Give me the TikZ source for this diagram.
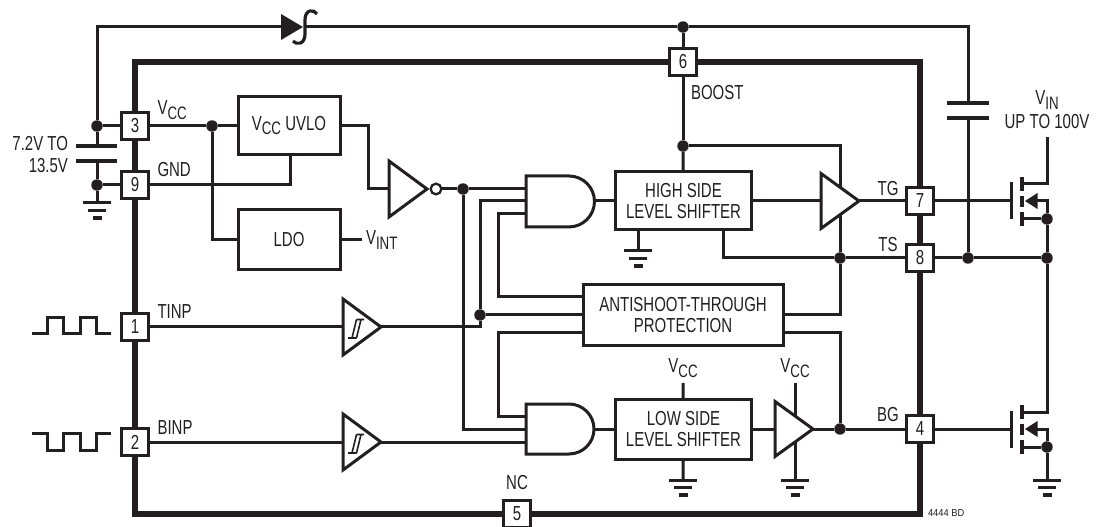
\documentclass[tikz,border=0pt]{standalone}
\usepackage{fontspec}
\setmainfont[FakeStretch=0.74]{Liberation Sans}
\newfontfamily\smallprint[FakeStretch=0.92]{Liberation Sans}
\usetikzlibrary{shapes.geometric,backgrounds,calc}
\definecolor{ink}{HTML}{231F20}
\newcommand{\subs}[1]{\raisebox{-3.2pt}{\fontsize{13.5}{13.5}\selectfont #1}}
\tikzset{
  x=0.75pt,y=-0.75pt,
  every node/.style={text=ink,inner sep=0pt,outer sep=0pt,font=\fontsize{15.2}{16.2}\selectfont},
  wire/.style={draw=ink,line width=2.25pt,line join=miter},
  heavy/.style={draw=ink,line width=3.9pt,line join=miter},
  pinbox/.style={draw=ink,fill=white,line width=2.25pt,minimum size=20pt},
  block/.style={draw=ink,fill=white,line width=2.25pt,align=center},
  dot/.style={circle,fill=ink,minimum size=8.6pt},
  amp/.style={isosceles triangle,isosceles triangle stretches,draw=ink,fill=white,line width=2.25pt,minimum width=#1*0.75pt,minimum height=28.5pt,anchor=apex},
  amp/.default=55,
  lab/.style={align=center},
  pics/gndsym/.style={code={
    \draw[ink,line width=2.25pt] (-14,0) -- (14,0);
    \draw[ink,line width=2.25pt] (-9,7.5) -- (9,7.5);
    \draw[ink,line width=2.6pt] (-4.5,15) -- (4.5,15);
  }}
}
\newcommand{\mosfetsym}[2]{%
  \begin{scope}[shift={(#1,#2)}]
    \draw[ink,line width=2.25pt] (1011,-18.5) -- (1011,18.5);
    \draw[ink,line width=2.6pt] (1022,-24) -- (1022,-10) (1022,-5) -- (1022,6) (1022,11) -- (1022,25);
    \fill[ink] (1025,0) -- (1037.5,-8) -- (1037.5,8) -- cycle;
  \end{scope}}
\begin{document}
\begin{tikzpicture}
\useasboundingbox (0,0) rectangle (1096,527);
% pins
\node[pinbox] (p3) at (135,126) {3};
\node[pinbox] (p9) at (135,185) {9};
\node[pinbox] (p1) at (135,327) {1};
\node[pinbox] (p2) at (135,442) {2};
\node[pinbox] (p5) at (517,514) {5};
\node[pinbox] (p6) at (683,62) {6};
\node[pinbox] (p7) at (920,201) {7};
\node[pinbox] (p8) at (920,258) {8};
\node[pinbox] (p4) at (920,429) {4};
% blocks
\node[block,minimum width=76.5pt,minimum height=44pt] (uvlo) at (289,125.5) {V\subs{CC} UVLO};
\node[block,minimum width=76.5pt,minimum height=45pt] (ldo) at (289,240) {LDO};
\node[block,minimum width=102.5pt,minimum height=43.5pt] (hs) at (683.5,201) {HIGH SIDE\\LEVEL SHIFTER};
\node[block,minimum width=102.5pt,minimum height=45pt] (ls) at (683.5,429) {LOW SIDE\\LEVEL SHIFTER};
\node[block,minimum width=150pt,minimum height=45pt] (as) at (683,315) {ANTISHOOT-THROUGH\\PROTECTION};
% amplifiers
\node[amp=56] (inv) at (427,189) {};
\node[circle,draw=ink,fill=white,line width=1.7pt,minimum size=8pt] (bub) at (436,189) {};
\node[amp=56] (st) at (381,327) {};
\node[amp=56] (sb) at (381,442) {};
\node[amp=55] (dh) at (859,201) {};
\node[amp=55] (dl) at (813,429) {};
\node[isosceles triangle,isosceles triangle stretches,fill=ink,minimum width=19.5pt,minimum height=16.5pt,anchor=apex] (dio) at (303,27) {};
% junction dots
\node[dot] (j1) at (97,126) {};
\node[dot] (j2) at (97,185) {};
\node[dot] (j3) at (212,126) {};
\node[dot] (j4) at (683,27) {};
\node[dot] (j5) at (683,146) {};
\node[dot] (j6) at (463,189) {};
\node[dot] (j7) at (480,315) {};
\node[dot] (j8) at (840,258) {};
\node[dot] (j9) at (968,258) {};
\node[dot] (j10) at (1047,258) {};
\node[dot] (j11) at (1047,219) {};
\node[dot] (j12) at (840,429) {};
\node[dot] (j13) at (1047,447) {};
% free ends
\coordinate (a1a) at (526,189); \coordinate (a1b) at (526,201); \coordinate (a1c) at (526,214); \coordinate (a1o) at (594,201);
\coordinate (a2a) at (526,416); \coordinate (a2b) at (526,429); \coordinate (a2c) at (526,442); \coordinate (a2o) at (594,429);
\coordinate (capt) at (968,103); \coordinate (capb) at (968,118);
\coordinate (cint) at (97,146); \coordinate (cinb) at (97,161);
\coordinate (sint) at (305,27);
\coordinate (g1) at (97,203); \coordinate (g2) at (638,251); \coordinate (g3) at (683,480);
\coordinate (g4) at (795,480); \coordinate (g5) at (1047,480);
\coordinate (vintend) at (362,240);
\coordinate (vccls) at (683,383); \coordinate (vccdr) at (795,383);
\coordinate (mt) at (1010,201); \coordinate (mb) at (1010,429);
\coordinate (vinend) at (1047,137);
% AND gates
\draw[ink,fill=white,line width=2.25pt] (526,176) -- (569,176) arc[start angle=90,end angle=-90,radius=19.1pt] -- (526,227) -- cycle;
\draw[ink,fill=white,line width=2.25pt] (526,404) -- (569,404) arc[start angle=90,end angle=-90,radius=18.75pt] -- (526,454) -- cycle;
% schmitt glyphs
\foreach \yy in {327,442}{
  \draw[ink,line width=1.2pt] (348,\yy+11) -- (356.5,\yy+11) (352,\yy+11) -- (356.5,\yy-7.5) (356.5,\yy+11) -- (361,\yy-7.5) (356.5,\yy-7.5) -- (364,\yy-7.5);
}
% capacitor plates
\draw[ink,line width=2.5pt] (947,103) -- (989,103) (947,118) -- (989,118) (76,146) -- (117,146) (76,161) -- (117,161);
% grounds
\pic at (g1) {gndsym};
\pic at (g2) {gndsym};
\pic at (g3) {gndsym};
\pic at (g4) {gndsym};
\pic at (g5) {gndsym};
% mosfets
\mosfetsym{0}{201}
\mosfetsym{0}{429}
% connectors
\begin{scope}[on background layer]
  \draw[heavy] (p6.west) -- (135,62) -- (p3.north);
  \draw[heavy] (p6.east) -- (920,62) -- (p7.north);
  \draw[heavy] (p3) -- (p9) (p9) -- (p1) (p1) -- (p2);
  \draw[heavy] (p7) -- (p8) (p8) -- (p4);
  \draw[heavy] (p2.south) -- (135,514) -- (p5.west);
  \draw[heavy] (p5.east) -- (920,514) -- (p4.south);
  % supply
  \draw[wire] (j1) -- (p3);
  \draw[wire] (j2) -- (p9);
  \draw[wire] (j1) -- (cint);
  \draw[wire] (cinb) -- (j2);
  \draw[wire] (j2) -- (g1);
  \draw[wire] (j1) -- (97,27) -- (dio.center);
  \draw[wire] (sint) -- (j4);
  \draw[wire] (j4) -- (968,27) -- (capt);
  \draw[wire] (capb) -- (j9);
  \draw[wire] (j4) -- (p6);
  \draw[wire] (p6) -- (j5);
  \draw[wire] (j5) -- (hs);
  \draw[wire] (j5) -| (j8);
  \draw[wire] (p3) -- (j3);
  \draw[wire] (j3) -- (uvlo.west|-j3);
  \draw[wire] (j3) |- (ldo);
  \draw[wire] (p9) -| (290,155);
  \draw[wire] (ldo) -- (vintend);
  \draw[wire] (uvlo.east|-j3) -- (368,126) -- (368,189) -- (inv.lower side);
  \draw[wire] (bub) -- (j6);
  \draw[wire] (j6) -- (a1a);
  \draw[wire] (j6) |- (a2b);
  \draw[wire] (a1b) -| (j7);
  \draw[wire] (a1c) -- (498,214) -- (498,297) -- (as.west|-0,297);
  \draw[wire] (j7) -- (as.west|-j7);
  \draw[wire] (as.west|-0,333) -- (498,333) -- (498,416) -- (a2a);
  \draw[wire] (p1) -- (st.lower side);
  \draw[wire] (st.apex) -- (480,327) -- (j7);
  \draw[wire] (p2) -- (sb.lower side);
  \draw[wire] (sb.apex) -- (a2c);
  \draw[wire] (a1o) -- (hs.west|-a1o);
  \draw[wire] (a2o) -- (ls.west|-a2o);
  \draw[wire] (hs.east|-dh.lower side) -- (dh.lower side);
  \draw[wire] (ls.east|-dl.lower side) -- (dl.lower side);
  \draw[wire] (dh.apex) -- (p7);
  \draw[wire] (dl.apex) -- (j12);
  \draw[wire] (j12) -- (p4);
  \draw[wire] (p7) -- (mt);
  \draw[wire] (p4) -- (mb);
  \draw[wire] (723,230) |- (j8);
  \draw[wire] (j8) -- (p8);
  \draw[wire] (p8) -- (j9);
  \draw[wire] (j9) -- (j10);
  \draw[wire] (j8) -- (840,315) -- (as.east|-0,315);
  \draw[wire] (as.east|-0,333) -- (840,333) -- (j12);
  \draw[wire] (hs.south-|g2) -- (g2);
  \draw[wire] (ls) -- (g3);
  \draw[wire] (ls) -- (vccls);
  \draw[wire] (vccdr) -- (g4);
  % mosfet leads
  \draw[wire] (1022,184) -- (1047,184) -- (vinend);
  \draw[wire] (1022,219) -- (j11);
  \draw[wire] (1030,201) -- (1047,201) -- (j11);
  \draw[wire] (j11) -- (j10);
  \draw[wire] (j10) -- (1047,412) -- (1022,412);
  \draw[wire] (1022,447) -- (j13);
  \draw[wire] (1030,429) -- (1047,429) -- (j13);
  \draw[wire] (j13) -- (g5);
\end{scope}
% schottky hook
\draw[ink,line width=2.4pt] (293,41) .. controls (296,45) and (305,45) .. (305,34) -- (305,20) .. controls (305,9) and (314,9) .. (317,14);
% square waves
\draw[ink,line width=2.25pt] (32,334) -- (47,334) -- (47,318) -- (63,318) -- (63,334) -- (80,334) -- (80,318) -- (96,318) -- (96,334) -- (111,334);
\draw[ink,line width=2.25pt] (32,433) -- (47,433) -- (47,450) -- (63,450) -- (63,433) -- (80,433) -- (80,450) -- (96,450) -- (96,433) -- (111,433);
% labels
\node[lab,anchor=east] (t1) at (68,144) {7.2V TO};
\node[lab,anchor=east] (t2) at (68,166) {13.5V};
\node[anchor=west] (t3) at (157.5,110) {V\subs{CC}};
\node[anchor=west] (t4) at (157.5,170) {GND};
\node[anchor=west] (t5) at (157.5,312) {TINP};
\node[anchor=west] (t6) at (157.5,428) {BINP};
\node[anchor=west] (t7) at (366,240) {V\subs{INT}};
\node[anchor=west] (t8) at (691,93) {BOOST};
\node (t9) at (517,483) {NC};
\node (t10) at (888,189) {TG};
\node (t11) at (888,245) {TS};
\node (t12) at (888,415) {BG};
\node (t13) at (683,368) {V\subs{CC}};
\node (t14) at (795,368) {V\subs{CC}};
\node (t15) at (1047,100) {V\subs{IN}};
\node (t16) at (1047,122) {UP TO 100V};
\node[font=\smallprint\fontsize{7.6}{8}\selectfont,anchor=west] (t17) at (928,513) {4444 BD};
\end{tikzpicture}
\end{document}
